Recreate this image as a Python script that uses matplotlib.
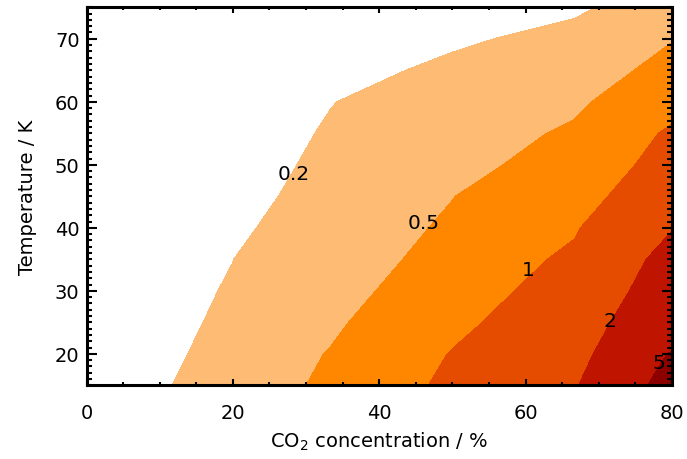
import matplotlib
matplotlib.use("Agg")
from matplotlib import pyplot as plt
from matplotlib.ticker import MultipleLocator

# CO2 concentration (%) and temperature (K) grid
conc = [0, 20, 33.33, 50, 66.67, 80]
temp = [15, 20, 25, 30, 35, 40, 45, 50, 55, 60, 65, 70, 75]

# one row per temperature, one column per concentration
ratio = [
    [0.114, 0.261, 0.580, 1.104, 1.815, 6.064],
    [0.113, 0.239, 0.520, 1.022, 1.237, 5.204],
    [0.114, 0.222, 0.432, 0.892, 1.333, 3.134],
    [0.113, 0.210, 0.381, 0.702, 1.290, 2.550],
    [0.107, 0.199, 0.346, 0.606, 1.113, 2.319],
    [0.096, 0.168, 0.301, 0.548, 0.937, 1.963],
    [0.088, 0.147, 0.261, 0.493, 0.786, 1.409],
    [0.083, 0.139, 0.232, 0.387, 0.660, 1.207],
    [0.080, 0.132, 0.213, 0.319, 0.554, 1.073],
    [0.076, 0.122, 0.196, 0.275, 0.431, 0.820],
    [0.070, 0.104, 0.152, 0.230, 0.340, 0.602],
    [0.063, 0.088, 0.123, 0.178, 0.243, 0.487],
    [0.057, 0.074, 0.096, 0.127, 0.176, 0.289],
]

levels = [0.2, 0.5, 1, 2, 5, 1000]
colors = ['#FDBB74', '#FF8700', '#E64C00', '#BE1400', '#8C0000']

level_labels = ['0.2', '0.5', '1', '2', '5']
label_x = [28.3, 46.1, 60.4, 71.6, 78.2]
label_y = [48.7, 40.9, 33.4, 25.3, 18.6]

fig = plt.figure(figsize=(6.87, 4.6), dpi=100)
ax = fig.add_axes([0.126, 0.160, 0.852, 0.822])
ax.contourf(conc, temp, ratio, levels=levels, colors=colors)

for lab, x, y in zip(level_labels, label_x, label_y):
    ax.text(x, y, lab, ha='center', va='center', fontsize=14.5, color='black')

ax.set_xlim(0, 80)
ax.set_ylim(15, 75)
ax.set_xticks([0, 20, 40, 60, 80])
ax.set_yticks([20, 30, 40, 50, 60, 70])
ax.xaxis.set_minor_locator(MultipleLocator(5))
ax.yaxis.set_minor_locator(MultipleLocator(1))
ax.tick_params(which='both', direction='in', top=True, right=True, width=1.5, labelsize=14)
ax.tick_params(axis='x', which='major', length=4.5, pad=13)
ax.tick_params(axis='x', which='minor', length=2)
ax.tick_params(axis='y', which='major', length=7.5, pad=5)
ax.tick_params(axis='y', which='minor', length=3.6)
for sp in ax.spines.values():
    sp.set_linewidth(2.2)

ax.set_xlabel(r'CO$_2$ concentration / %', fontsize=14, labelpad=5)
ax.set_ylabel('Temperature / K', fontsize=14, labelpad=13)

fig.savefig('out.png')
